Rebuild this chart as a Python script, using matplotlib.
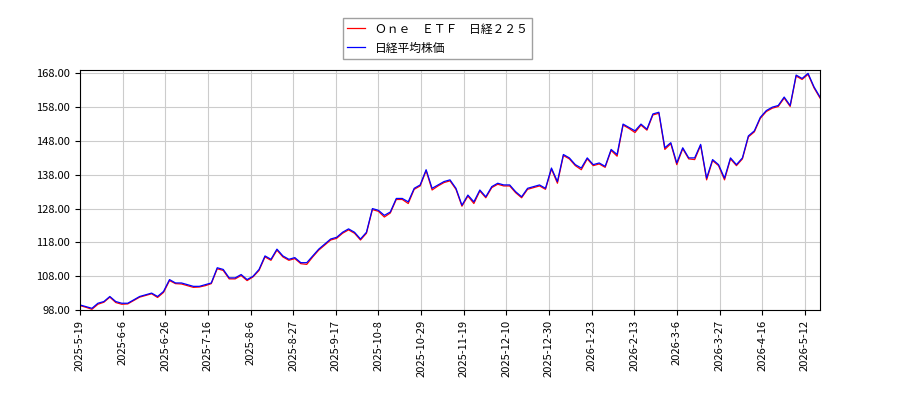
import matplotlib.pyplot as plt
import numpy as np

plt.rcParams['font.family'] = ['Noto Sans CJK JP', 'DejaVu Sans']

tick_labels = ['2025-5-19', '2025-6-6', '2025-6-26', '2025-7-16', '2025-8-6', '2025-8-27',
               '2025-9-17', '2025-10-8', '2025-10-29', '2025-11-19', '2025-12-10', '2025-12-30',
               '2026-1-23', '2026-2-13', '2026-3-6', '2026-3-27', '2026-4-16', '2026-5-12']

# 日経平均株価 (sampled every 2 trading days)
nikkei = [99.5, 99, 98.5, 100, 100.5, 102, 100.5, 100, 100, 101, 102, 102.5, 103, 102,
          103.5, 107, 106, 106, 105.5, 105, 105, 105.5, 106, 110.5, 110, 107.5, 107.5, 108.5,
          107, 108, 110, 114, 113, 116, 114, 113, 113.5, 112, 112, 114, 116, 117.5,
          119, 119.5, 121, 122, 121, 119, 121, 128, 127.5, 126, 127, 131, 131, 130,
          134, 135, 139.5, 134, 135, 136, 136.5, 134, 129, 132, 130, 133.5, 131.5, 134.5,
          135.5, 135, 135, 133, 131.5, 134, 134.5, 135, 134, 140, 136, 144, 143, 141,
          140, 143, 141, 141.5, 140.5, 145.5, 144, 153, 152, 151, 153, 151.5, 156, 156.5,
          146, 147.5, 141.5, 146, 143, 143, 147, 137, 142.5, 141, 137, 143, 141, 143,
          149.5, 151, 155, 157, 158, 158.5, 161, 158.5, 167.5, 166.5, 168, 164, 161]

# One ETF 日経225
etf = [99.3, 98.8, 98.2, 99.7, 100.3, 101.8, 100.2, 99.7, 99.8, 100.8, 101.8, 102.3, 102.8, 101.7,
       103.2, 106.7, 105.8, 105.7, 105.2, 104.7, 104.8, 105.2, 105.8, 110.2, 109.7, 107.2, 107.2, 108.2,
       106.7, 107.8, 109.7, 113.7, 112.7, 115.7, 113.7, 112.7, 113.2, 111.7, 111.5, 113.7, 115.7, 117.2,
       118.7, 119.2, 120.7, 121.7, 120.7, 118.7, 120.7, 127.7, 127.2, 125.5, 126.7, 130.7, 130.7, 129.5,
       133.7, 134.7, 139.2, 133.5, 134.7, 135.7, 136.2, 133.7, 128.7, 131.7, 129.5, 133.2, 131.2, 134.2,
       135.2, 134.7, 134.7, 132.7, 131.2, 133.7, 134.2, 134.7, 133.7, 139.7, 135.5, 143.7, 142.7, 140.7,
       139.5, 142.7, 140.7, 141.2, 140.2, 145.2, 143.5, 152.7, 151.7, 150.5, 152.7, 151.2, 155.7, 156.2,
       145.5, 147.2, 141.0, 145.7, 142.7, 142.5, 146.7, 136.5, 142.2, 140.7, 136.5, 142.7, 140.7, 142.7,
       149.2, 150.7, 154.7, 156.7, 157.7, 158.2, 160.7, 158.2, 167.2, 166.2, 167.7, 163.7, 160.7]

x = np.arange(len(nikkei)) * 2

fig = plt.figure(figsize=(9, 4), dpi=100)
ax = fig.add_axes([80 / 900, 90 / 400, 740 / 900, 240 / 400])
ax.plot(x, etf, color='red', lw=0.9, label='Ｏｎｅ　ＥＴＦ　日経２２５')
ax.plot(x, nikkei, color='blue', lw=0.9, label='日経平均株価')

ax.set_xlim(0, x[-1])
ax.set_ylim(98, 169)
ax.set_yticks(np.arange(98, 169, 10))
ax.set_yticklabels(['{:.2f}'.format(v) for v in np.arange(98, 169, 10)], fontsize=8)
ax.set_xticks(np.arange(len(tick_labels)) * 14.29)
ax.set_xticklabels(tick_labels, rotation=90, fontsize=8)
ax.grid(True, color='#cccccc', lw=0.8)

fig.legend(loc='upper center', bbox_to_anchor=(0.486, 0.97), fontsize=8.5,
           fancybox=False, edgecolor='#888888', handlelength=1.5)
fig.savefig('out.png')
